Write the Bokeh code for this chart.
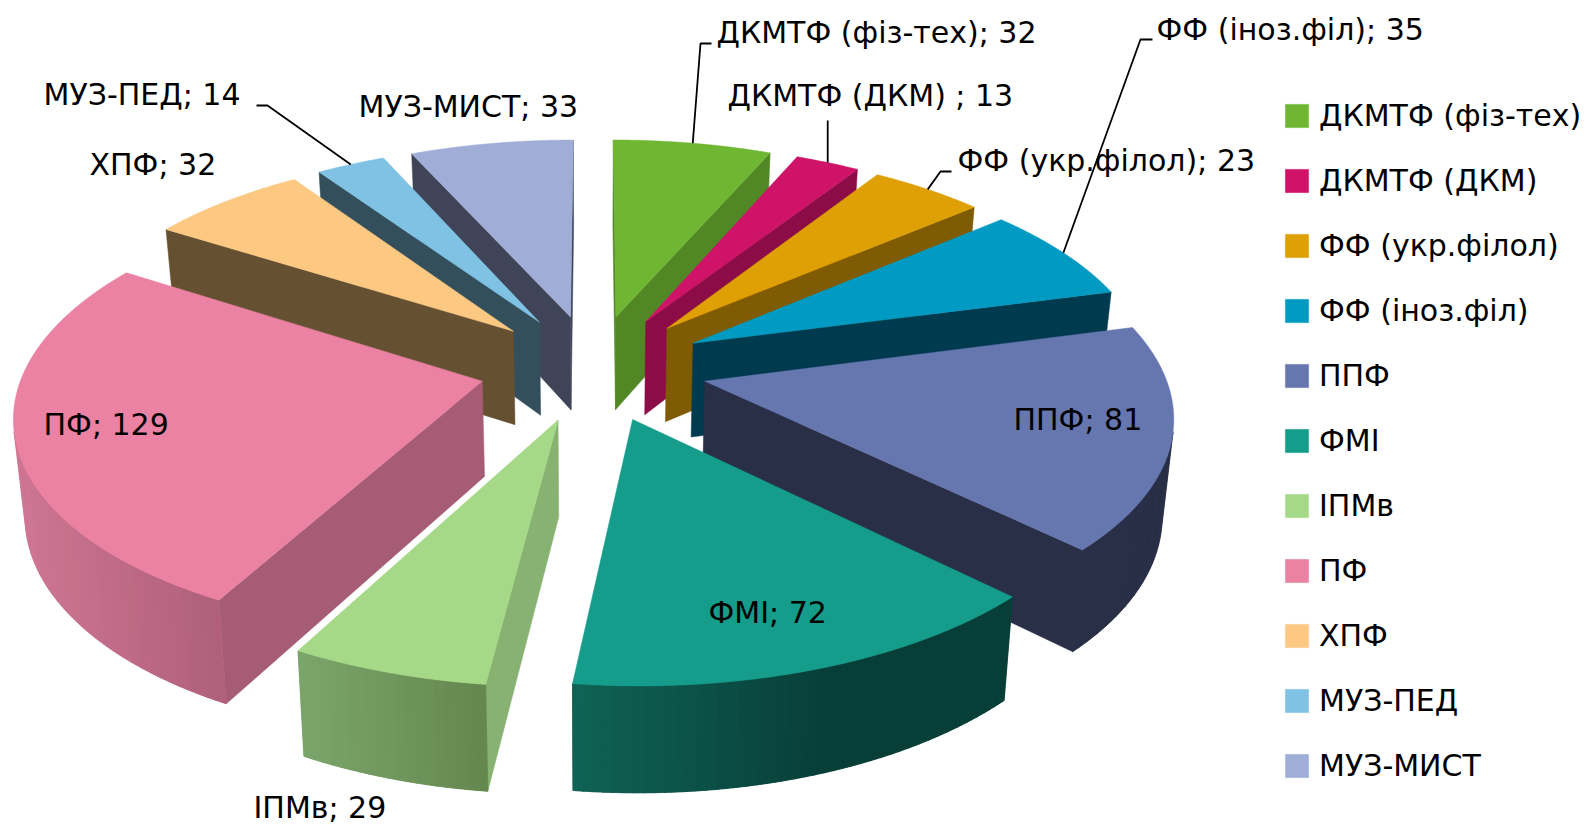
import numpy as np
from bokeh.plotting import figure
from bokeh.models import ColumnDataSource, Legend, LegendItem
from bokeh.core.properties import value
from bokeh.embed import file_html
from bokeh.resources import INLINE

# ---- data ----
categories = ["ДКМТФ (фіз-тех)", "ДКМТФ (ДКМ)", "ФФ (укр.філол)", "ФФ (іноз.філ)", "ППФ", "ФМІ",
              "ІПМв", "ПФ", "ХПФ", "МУЗ-ПЕД", "МУЗ-МИСТ"]
values = [32, 13, 23, 35, 81, 72, 29, 129, 32, 14, 33]
label_texts = ["ДКМТФ (фіз-тех); 32", "ДКМТФ (ДКМ) ; 13", "ФФ (укр.філол); 23", "ФФ (іноз.філ); 35", "ППФ; 81",
               "ФМІ; 72", "ІПМв; 29", "ПФ; 129", "ХПФ; 32", "МУЗ-ПЕД; 14", "МУЗ-МИСТ; 33"]

# ---- styles ----
top_colors = ["#6FB733", "#CE1369", "#DEA005", "#009AC3", "#6677B0", "#159C8A",
              "#A5D988", "#EB82A3", "#FCC882", "#7FC2E3", "#A0ADD6"]
cut_colors = ["#528726", "#8B0C46", "#7F5B03", "#003A4F", "#282F47", "#07403A",
              "#87B272", "#A55C74", "#655032", "#344F5C", "#404458"]
# wall gradient per slice: x at left, colour, x at right, colour
wall_grad = {4: (1000, "#282F47", 1200, "#282F47"),
             5: (573, "#0F6355", 830, "#083E38"),
             6: (298, "#7BA66B", 486, "#64864F"),
             7: (15, "#CE7693", 222, "#AF5F7A")}
BAND = 9  # width in pixels of one shade band on the outer walls

# ---- projection of the tilted pie (explode and camera) ----
CX, CY, AX, BY, PERSP, EXPLODE = 593.07, 366.99, 457.96, 214.13, 0.1373, 0.2491


def project(X, Y):
    w = 1 + PERSP * Y
    return CX + AX * X / w, CY - BY * Y / w


def drop(u, v):
    t = 93 + (v - 320) * 0.038
    return u + (CX - u) * 0.02, v + t


def hex2rgb(h):
    return np.array([int(h[i:i + 2], 16) for i in (1, 3, 5)], float)


def wall_color(i, x):
    if i not in wall_grad:
        return cut_colors[i]
    x0, c0, x1, c1 = wall_grad[i]
    f = min(1, max(0, (x - x0) / (x1 - x0)))
    c = hex2rgb(c0) * (1 - f) + hex2rgb(c1) * f
    return "#%02x%02x%02x" % tuple(int(round(q)) for q in c)


def quad_face(pu, pv):
    """Top edge pu,pv (arrays) with its dropped copy, as one closed outline."""
    du, dv = drop(np.asarray(pu, float), np.asarray(pv, float))
    return list(pu) + list(du[::-1]), list(pv) + list(dv[::-1])


def facing(u0, v0, u1, v1):
    xs, ys = quad_face([u0, u1], [v0, v1])
    area = sum(xs[k] * ys[(k + 1) % 4] - xs[(k + 1) % 4] * ys[k] for k in range(4))
    return area < 0


p = figure(width=1587, height=824, x_range=(0, 1587), y_range=(824, 0), output_backend="svg",
           toolbar_location=None, min_border=0, outline_line_color=None, background_fill_color="white",
           border_fill_color="white")
p.xaxis.visible = False
p.yaxis.visible = False
p.grid.visible = False

total = float(sum(values))
edges = np.cumsum([0.0] + values) / total * 2 * np.pi
mids = (edges[:-1] + edges[1:]) / 2
order = np.argsort(-np.cos(mids))
tops = {}
for i in order:
    ex, ey = EXPLODE * np.sin(mids[i]), EXPLODE * np.cos(mids[i])
    n = max(24, int(values[i] * 4))
    ang = np.linspace(edges[i], edges[i + 1], n + 1)
    ru, rv = project(ex + np.sin(ang), ey + np.cos(ang))
    au, av = project(ex, ey)
    xs, ys, cols = [], [], []
    # radial faces
    if facing(au, av, ru[0], rv[0]):
        fx, fy = quad_face([au, ru[0]], [av, rv[0]])
        xs.append(fx); ys.append(fy); cols.append(cut_colors[i])
    if facing(ru[-1], rv[-1], au, av):
        fx, fy = quad_face([ru[-1], au], [rv[-1], av])
        xs.append(fx); ys.append(fy); cols.append(cut_colors[i])
    # outer wall: keep the part turned to the viewer, paint a base, then the bands over it
    keep = [k for k in range(n) if facing(ru[k], rv[k], ru[k + 1], rv[k + 1])]
    if keep:
        k0, k1 = keep[0], keep[-1] + 1
        fx, fy = quad_face(ru[k0:k1 + 1], rv[k0:k1 + 1])
        xs.append(fx); ys.append(fy)
        cols.append(wall_color(i, (ru[k0] + ru[k1]) / 2))
        start = k0
        while start < k1:
            stop = start + 1
            while stop < k1 and abs(ru[stop] - ru[start]) < BAND:
                stop += 1
            end = min(stop + 1, k1)  # one sample of overlap hides the seams
            fx, fy = quad_face(ru[start:end + 1], rv[start:end + 1])
            xs.append(fx); ys.append(fy)
            cols.append(wall_color(i, (ru[start] + ru[stop]) / 2))
            start = stop
    if xs:
        src = ColumnDataSource(dict(xs=xs, ys=ys, c=cols))
        p.patches("xs", "ys", source=src, fill_color="c", line_color="c", line_width=0.5)
    tops[i] = p.patch(np.r_[au, ru], np.r_[av, rv], fill_color=top_colors[i], line_color=top_colors[i],
                      line_width=0.5)

# ---- leader lines: they start on the rim middle of their slice ----
leader_way = {0: [(700, 43), (711, 43)], 1: [(825, 120)], 2: [(940, 171), (951, 171)],
              3: [(1140, 39), (1152, 39)], 9: [(267, 105), (256, 105)]}
for i, way in leader_way.items():
    ex, ey = EXPLODE * np.sin(mids[i]), EXPLODE * np.cos(mids[i])
    u, v = project(ex + np.sin(mids[i]), ey + np.cos(mids[i]))
    if i == 1:
        way = [(u, 120)]
    p.line([u] + [w[0] for w in way], [v] + [w[1] for w in way], line_color="black", line_width=1.8)

# ---- labels ----
label_x = [716, 727, 957, 1156, 1013, 708, 253, 43, 89, 43, 358]
label_y = [32, 95, 160, 29, 419, 612, 807, 424, 164, 94, 106]
p.text(label_x, label_y, text=label_texts, text_font=value("DejaVu Sans"), text_font_size="30px",
       text_baseline="middle", text_align="left", text_color="black")

# ---- legend ----
legend = Legend(items=[LegendItem(label=categories[i], renderers=[tops[i]]) for i in range(len(categories))],
                location=(1282, 41), orientation="vertical", padding=0, margin=0, spacing=30,
                glyph_width=29, glyph_height=29, label_height=30, label_standoff=8,
                label_text_font="DejaVu Sans", label_text_font_size="30px", label_text_color="black",
                background_fill_alpha=0, border_line_color=None, click_policy="none")
p.add_layout(legend, "center")

open("out.html", "w").write(file_html(p, INLINE))
